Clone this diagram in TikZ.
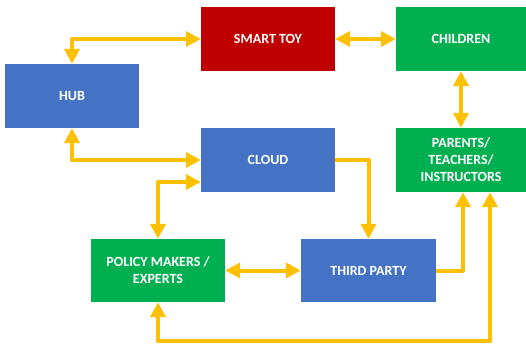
\documentclass[tikz,border=0pt]{standalone}
\usepackage{fontspec}
\setmainfont{Carlito}
\usetikzlibrary{arrows.meta,calc}
\definecolor{bluebox}{HTML}{4472C4}
\definecolor{redbox}{HTML}{C00000}
\definecolor{greenbox}{HTML}{00B050}
\definecolor{arrowc}{HTML}{FFC000}
\tikzset{
  box/.style={rectangle, minimum width=134pt, minimum height=64pt, inner sep=2pt,
    text=white, font=\fontsize{14}{17}\selectfont\bfseries, align=center},
  bluenode/.style={box, fill=bluebox},
  rednode/.style={box, fill=redbox},
  greennode/.style={box, fill=greenbox},
  conn/.style={draw=arrowc, line width=4pt, line join=round,
    arrows={-Triangle[length=15pt,width=15pt]}},
  bothconn/.style={conn, arrows={Triangle[length=15pt,width=15pt]-Triangle[length=15pt,width=15pt]}}
}
\begin{document}
\begin{tikzpicture}[x=1pt,y=-1pt]
\useasboundingbox[fill=white] (0,0) rectangle (526,345);
\node[rednode] (toy) at (268,39) {SMART TOY};
\node[greennode, minimum width=130pt] (children) at (461,39) {CHILDREN};
\node[bluenode] (hub) at (72,96) {HUB};
\node[bluenode] (cloud) at (268,160) {CLOUD};
\node[greennode, minimum width=130pt] (parents) at (461,160) {PARENTS/\\TEACHERS/\\INSTRUCTORS};
\node[greennode, minimum height=63pt] (policy) at (158,270.5) {POLICY MAKERS /\\EXPERTS};
\node[bluenode, minimum width=135pt, minimum height=63pt] (third) at (368.5,270.5) {THIRD PARTY};
\coordinate (cloudlow) at ($(cloud.west)+(0,22)$);
\coordinate (parA) at ($(parents.south)+(2,0)$);
\coordinate (parB) at ($(parents.south)+(29,0)$);
\coordinate (bottomL) at ($(policy.south)+(0,39)$);
\draw[bothconn] (hub.north) |- (toy.west);
\draw[bothconn] (toy.east) -- (children.west);
\draw[bothconn] (children.south) -- (parents.north);
\draw[bothconn] (hub.south) |- (cloud.west);
\draw[conn] (cloud.east) -| (third.north);
\draw[bothconn] (cloudlow) -| (policy.north);
\draw[bothconn] (policy.east) -- (third.west);
\draw[conn] (third.east) -| (parA);
\draw[bothconn] (policy.south) -- (bottomL) -| (parB);
\end{tikzpicture}
\end{document}
